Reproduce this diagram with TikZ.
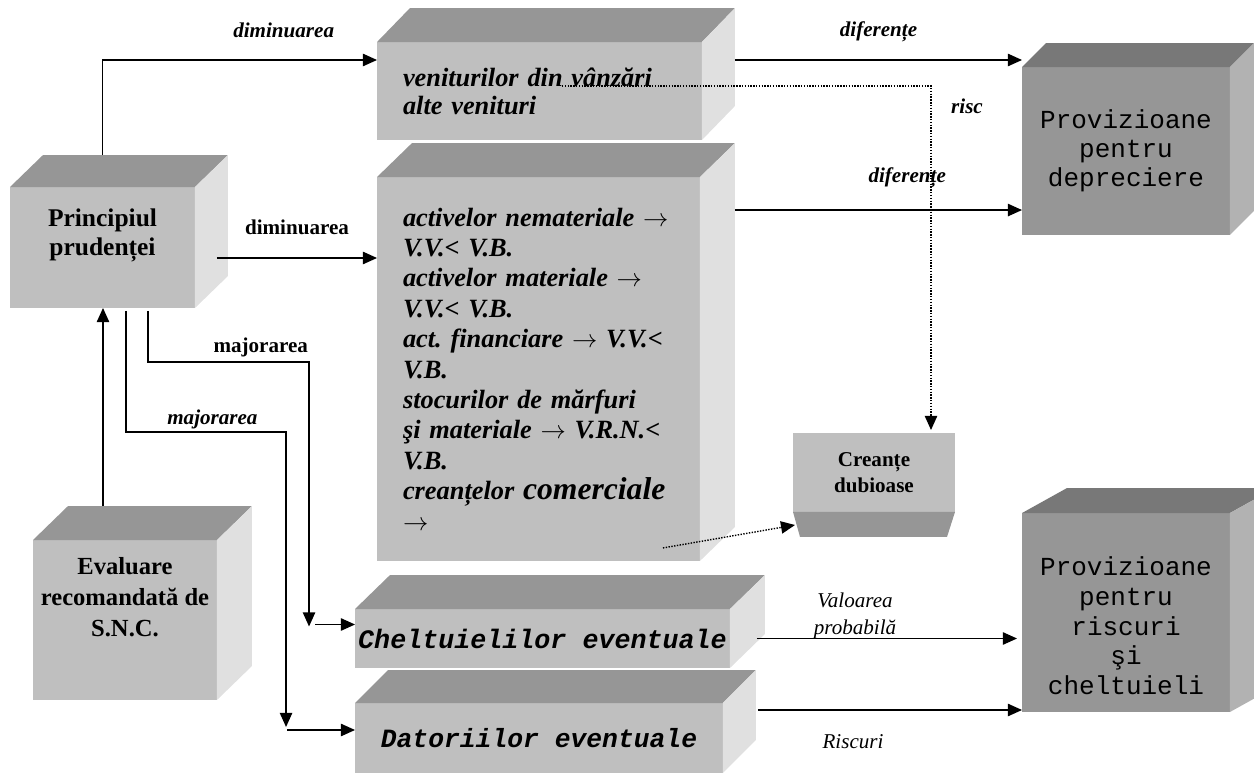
\documentclass[tikz,border=0pt]{standalone}
\usepackage{fontspec}
\setmainfont{Liberation Serif}
\setmonofont{Liberation Mono}
\usetikzlibrary{arrows.meta}
\frenchspacing

\definecolor{boxfront}{gray}{0.75}
\definecolor{boxtop}{gray}{0.59}
\definecolor{boxside}{gray}{0.88}
\definecolor{provfront}{gray}{0.59}
\definecolor{provtop}{gray}{0.47}
\definecolor{provside}{gray}{0.70}

\tikzset{
  face/.style={fill=boxfront, inner sep=0pt, outer sep=0pt},
  provface/.style={face, fill=provfront},
  boldtxt/.style={align=center, font=\fontsize{14.5}{16.5}\selectfont\bfseries},
  itbtxt/.style={align=left, font=\fontsize{15}{17.3}\selectfont\bfseries\itshape},
  monotxt/.style={align=center, font=\fontsize{14.8}{16.5}\selectfont\ttfamily},
  monobtxt/.style={font=\fontsize{15.2}{17}\selectfont\ttfamily\bfseries\itshape},
  lbl/.style={font=\fontsize{12}{15}\selectfont\bfseries\itshape},
  lblb/.style={font=\fontsize{12}{15}\selectfont\bfseries},
  lbli/.style={font=\fontsize{12}{15.3}\selectfont\itshape},
}

\newcommand{\arr}{$\rightarrow$}

% top and right faces of a box drawn from its front node
\newcommand{\boxfaces}[5]{%
  \fill[#4] (#1.north west) -- ++(#2,#3) -- ([shift={(#2,#3)}]#1.north east) -- (#1.north east) -- cycle;
  \fill[#5] (#1.north east) -- ([shift={(#2,#3)}]#1.north east) -- ([shift={(#2,#3)}]#1.south east) -- (#1.south east) -- cycle;
}

\begin{document}
\begin{tikzpicture}[x=0.02cm, y=-0.02cm, line width=0.8pt, >={Triangle[length=8pt,width=7pt]}]
  \useasboundingbox (0,0) rectangle (1254,776);

  % boxes
  \node[face, boldtxt, minimum width=3.7cm, minimum height=2.42cm] (princ) at (102.5,247.5) {Principiul\\prudenței\\[0.5pt]};
  \node[face, boldtxt, font=\fontsize{14}{17.5}\selectfont\bfseries, minimum width=3.68cm, minimum height=3.2cm] (eval) at (125,620) {Evaluare\\recomandată de\\S.N.C.\\[9pt]};
  \node[face, itbtxt, font=\fontsize{15}{16}\selectfont\bfseries\itshape, inner xsep=0.52cm, text width=5.46cm, minimum height=1.96cm] (venit) at (539.5,91) {veniturilor din vânzări\\alte venituri};
  \node[face, itbtxt, inner xsep=0.52cm, text width=5.42cm, minimum height=7.68cm] (activ) at (538.5,369) {activelor nemateriale \arr\\
    V.V.< V.B.\\
    activelor materiale \arr\\
    V.V.< V.B.\\
    act. financiare \arr{} V.V.<\\
    V.B.\\
    stocurilor de mărfuri\\
    şi materiale \arr{} V.R.N.<\\
    V.B.\\
    creanțelor {\fontsize{18}{17.3}\selectfont comerciale}\\
    \arr};
  \node[face, boldtxt, font=\fontsize{12}{15}\selectfont\bfseries, minimum width=3.24cm, minimum height=1.58cm] (creante) at (874,472.5) {Creanțe\\dubioase};
  \node[provface, monotxt, minimum width=4.16cm, minimum height=3.36cm] (provdep) at (1126,151) {Provizioane\\pentru\\depreciere};
  \node[provface, monotxt, font=\fontsize{14.8}{17}\selectfont\ttfamily, minimum width=4.16cm, minimum height=3.98cm] (provrisc) at (1126,612.5) {Provizioane\\pentru\\riscuri\\şi\\cheltuieli\\[-32pt]};
  \node[face, monobtxt, minimum width=7.5cm, minimum height=1.18cm] (chelt) at (542.5,638.5) {Cheltuielilor eventuale};
  \node[face, monobtxt, font=\fontsize{15}{17}\selectfont\ttfamily\bfseries\itshape, minimum width=7.36cm, minimum height=1.4cm] (dator) at (539,738) {Datoriilor eventuale};

  \boxfaces{princ}{33}{-32}{boxtop}{boxside}
  \boxfaces{eval}{35}{-34}{boxtop}{boxside}
  \boxfaces{venit}{33}{-34}{boxtop}{boxside}
  \boxfaces{activ}{35}{-34}{boxtop}{boxside}
  \boxfaces{chelt}{35}{-34}{boxtop}{boxside}
  \boxfaces{dator}{33}{-33}{boxtop}{boxside}
  \boxfaces{provdep}{24}{-24}{provtop}{provside}
  \boxfaces{provrisc}{45}{-25}{provtop}{provside}
  \fill[boxtop] (creante.south west) -- (creante.south east) -- ++(-8,25) -- ([shift={(7,25)}]creante.south west) -- cycle;

  % connectors
  \draw[->] ([shift={(0,-32)}]princ.north) |- node[pos=0.83, lbl, yshift=0.6cm] {diminuarea} ([shift={(0,-31)}]venit.west);
  \draw[->] ([shift={(22,10.5)}]princ.east) coordinate (dm) -- (dm -| activ.west) node[midway, lblb, yshift=0.62cm] {diminuarea};
  \draw[->] ([shift={(45.5,3)}]princ.south) -- ++(0,51) -| node[pos=0.35, lblb, yshift=0.3cm] {majorarea} ([shift={(-46,-12)}]chelt.west) coordinate (mj1);
  \draw[->] ([shift={(6,-2)}]mj1) coordinate (mj1b) -- (mj1b -| chelt.west);
  \draw[->] ([shift={(23.5,3)}]princ.south) -- ++(0,121) -| node[pos=0.27, lbl, yshift=0.26cm] {majorarea} ([shift={(-69,-11)}]dator.west) coordinate (mj2);
  \draw[->] ([shift={(1,3)}]mj2) coordinate (mj2b) -- (mj2b -| dator.west);
  \draw[->] ([shift={(-22,-34)}]eval.north) coordinate (ev) -- (ev |- princ.south);

  \draw[->] ([shift={(33,-31)}]venit.east) coordinate (df1) -- (df1 -| provdep.west) node[midway, lbl, yshift=0.56cm] {diferențe};
  \draw[->, dash pattern=on 0.8pt off 0.8pt] ([shift={(22.5,-5)}]venit.center) -| node[pos=0.53, lbl, xshift=0.72cm] {risc} ([shift={(57,-3)}]creante.north);
  \draw[->] ([shift={(35,33)}]activ.north east) coordinate (df2) -- (df2 -| provdep.west) node[pos=0.6, lbl, yshift=0.64cm] {diferențe};
  \draw[->, dash pattern=on 0.8pt off 0.8pt] ([shift={(-37,-13)}]activ.south east) -- ([shift={(2,13)}]creante.south west);

  \draw[->, shorten >=0.1cm] ([shift={(27,0)}]chelt.east) coordinate (vp) -- (vp -| provrisc.west) node[pos=0.37, lbli, align=center, yshift=0.46cm] {Valoarea\\probabilă};
  \draw[->] ([shift={(35,-28)}]dator.east) coordinate (rs) -- (rs -| provrisc.west) node[pos=0.36, lbli, yshift=-0.64cm] {Riscuri};
\end{tikzpicture}
\end{document}
